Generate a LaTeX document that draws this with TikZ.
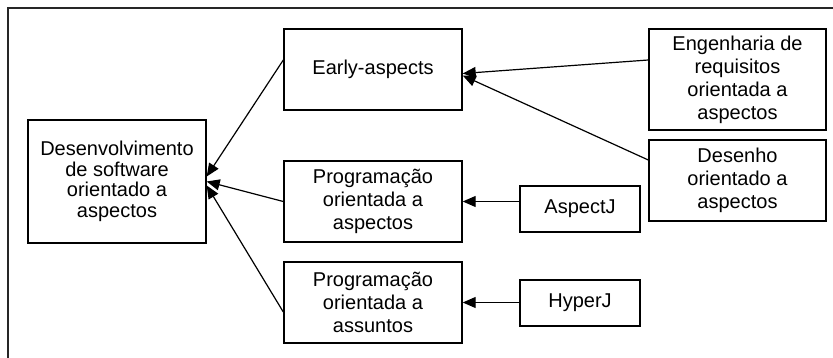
\documentclass[tikz,border=0pt]{standalone}
\usepackage{fontspec}
\setmainfont{Liberation Sans}
\usetikzlibrary{arrows.meta}
\begin{document}
\begin{tikzpicture}[x=1pt,y=-1pt,
  box/.style={draw=black, line width=1.4pt, inner sep=0pt, align=center,
    font=\fontsize{20}{23}\selectfont},
  conn/.style={line width=1.2pt, -{Triangle[length=13pt,width=11pt]}}]
\useasboundingbox (0,0) rectangle (833,358);
\draw[line width=1.4pt, black!85] (8,360) -- (8,8) -- (835,8);

\node[box, minimum width=178pt, minimum height=123pt, font=\fontsize{20}{20.6}\selectfont] (dev) at (117,181.5)
  {Desenvolvimento\\de software\\orientado a\\aspectos};
\node[box, minimum width=178pt, minimum height=81pt] (early) at (373,69.5) {Early-aspects};
\node[box, minimum width=178pt, minimum height=81pt] (prog1) at (373,201.5)
  {Programação\\orientada a\\aspectos};
\node[box, minimum width=178pt, minimum height=81pt] (prog2) at (373,302.5)
  {Programação\\orientada a\\assuntos};
\node[box, minimum width=177pt, minimum height=101pt] (eng) at (737.5,79.5)
  {Engenharia de\\requisitos\\orientada a\\aspectos};
\node[box, minimum width=177pt, minimum height=81pt] (des) at (737.5,180.5)
  {Desenho\\orientado a\\aspectos};
\node[box, minimum width=120pt, minimum height=46pt] (aspectj) at (580,209) {AspectJ};
\node[box, minimum width=120pt, minimum height=46pt] (hyperj) at (580,303) {HyperJ};

\draw[conn] ([yshift=9.5pt]early.west) -- ([yshift=5pt]dev.east);
\draw[conn] (prog1.west) -- (dev.east);
\draw[conn] ([yshift=-9.5pt]prog2.west) -- ([yshift=-4pt]dev.east);
\draw[conn] ([yshift=19.5pt]eng.west) -- ([yshift=-4pt]early.east);
\draw[conn] ([yshift=20.5pt]des.west) -- ([yshift=-6pt]early.east);
\draw[conn] (aspectj.west |- prog1.east) -- (prog1.east);
\draw[conn] (hyperj.west |- prog2.east) -- (prog2.east);
\end{tikzpicture}
\end{document}
